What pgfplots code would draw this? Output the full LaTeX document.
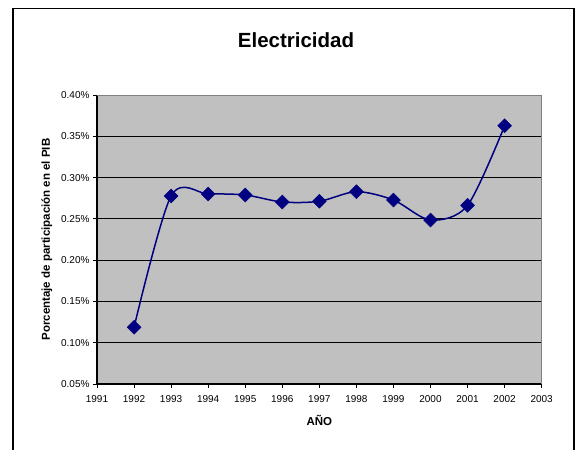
\documentclass[border=0pt]{standalone}
\usepackage{pgfplots}
\pgfplotsset{compat=1.18}
\usepackage{fontspec}
\setmainfont{Liberation Sans}
\definecolor{silverbg}{HTML}{C0C0C0}
\definecolor{navyline}{HTML}{000080}
\definecolor{frame}{HTML}{808080}
\begin{document}
\begin{tikzpicture}
\useasboundingbox (0,0) rectangle (575bp,450bp);
\draw[line width=1.4bp,black] (13bp,-5bp) -- (13bp,441.3bp) -- (574bp,441.3bp) -- (574bp,-5bp);
\node[font=\bfseries\fontsize{20.5bp}{24bp}\selectfont] at (296bp,410bp) {Electricidad};
\begin{axis}[
  at={(97bp,66bp)}, anchor=south west,
  width=444.7bp, height=289bp, scale only axis,
  xmin=1991, xmax=2003, ymin=0.05, ymax=0.40,
  xtick={1991,1992,...,2003},
  ytick={0.05,0.10,0.15,0.20,0.25,0.30,0.35,0.40},
  axis x line*=bottom, axis y line*=left,
  axis line style={line width=1.3bp, black, -},
  tick align=outside,
  major tick length=4bp,
  tick style={black, line width=0.8bp},
  ymajorgrids,
  grid style={black, line width=1bp},
  axis background/.style={fill=silverbg},
  /pgf/number format/assume math mode=true,
  tick label style={font=\fontsize{10bp}{12bp}\selectfont},
  xticklabel style={/pgf/number format/1000 sep={}, yshift=-3.5bp},
  yticklabel={\pgfmathprintnumber[fixed,fixed zerofill,precision=2]{\tick}\%},
  xlabel={AÑO},
  ylabel={Porcentaje de participación en el PIB},
  label style={font=\bfseries\fontsize{11.5bp}{13bp}\selectfont},
  xlabel style={at={(axis description cs:0.5,-0.1270)}, anchor=center},
  ylabel style={at={(axis description cs:-0.1130,0.5)}, anchor=center, rotate=0},
  clip=false,
]
\draw[frame, line width=0.8bp] (rel axis cs:0,1) -- (rel axis cs:1,1) -- (rel axis cs:1,0);
\addplot[navyline, line width=1.5bp, smooth,
  mark=square*, mark size=4.9bp,
  mark options={rotate=45, fill=navyline, draw=navyline, line width=0.5bp}]
  coordinates {
  (1992,0.1187) (1993,0.2777) (1994,0.2801) (1995,0.2789) (1996,0.2704)
  (1997,0.2713) (1998,0.2829) (1999,0.2728) (2000,0.2486) (2001,0.2664)
  (2002,0.3628)
  };
\end{axis}
\end{tikzpicture}
\end{document}
